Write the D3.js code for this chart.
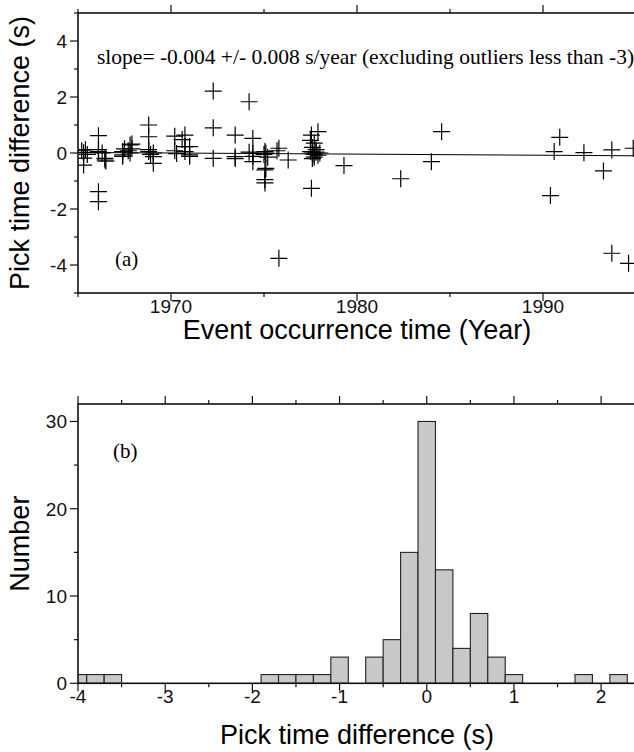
<!DOCTYPE html>
<html><head><meta charset="utf-8">
<script src="https://cdn.jsdelivr.net/npm/d3@7"></script>
<style>
html,body{margin:0;padding:0;background:#fff;}
svg{display:block;}
</style></head>
<body>
<svg id="chart" width="634" height="752"></svg>
<script>
// ---- Data: panel (a) scatter ----
const years = [
 1975.8,1993.7,1994.6,1966.1,1990.4,1966.1,1977.55,1975.05,1982.35,1975.05,
 1975.05,1993.25,1975.1,
 1965.3,1969.05,1979.3,1984.0,1974.4,
 1966.45,1966.45,1966.5,1972.27,1973.45,1973.45,1974.4,1976.3,1969.05,1965.3,1977.7,1977.6,1971.0,1967.4,1975.2,
 1965.3,1965.2,1965.5,1966.1,1966.3,1967.4,1967.4,1967.8,1967.7,1968.8,1969.05,1968.9,1970.2,1970.75,1971.0,
 1974.4,1974.2,1975.05,1975.0,1975.7,1977.5,1977.6,1977.7,1977.8,1977.9,1978.0,1990.6,1992.2,1970.3,1975.1,
 1965.4,1966.1,1967.5,1967.8,1967.9,1968.8,1970.75,1971.0,1975.8,1977.6,1977.8,1993.7,1994.85,
 1977.7,1977.5,1967.9,1970.6,
 1966.1,1968.8,1970.2,1970.75,1973.45,1974.4,1977.55,1990.9,
 1977.9,1984.55,1972.27,
 1968.8,1974.2,1972.27
];
const pickDiff = [
 -3.76,-3.58,-3.94,-1.74,-1.52,-1.38,-1.26,-1.07,-0.92,-0.95,
 -0.60,-0.64,-0.55,
 -0.43,-0.37,-0.45,-0.31,-0.31,
 -0.25,-0.19,-0.29,-0.19,-0.13,-0.20,-0.12,-0.25,-0.13,-0.18,-0.15,-0.20,-0.12,-0.12,-0.15,
 0.01,0.08,-0.05,0.05,0.00,0.05,-0.07,0.00,0.08,0.05,0.00,-0.05,0.08,0.05,-0.07,
 -0.01,0.03,0.05,-0.05,0.08,0.05,0.00,-0.05,0.03,-0.08,0.00,0.05,0.01,-0.02,0.00,
 0.12,0.12,0.15,0.29,0.15,0.12,0.23,0.23,0.17,0.20,0.12,0.11,0.17,
 0.35,0.45,0.32,0.48,
 0.62,0.58,0.60,0.64,0.64,0.52,0.64,0.56,
 0.76,0.76,0.90,
 1.00,1.83,2.21
];
// regression line
const regYears = [1965, 1995];
const regValues = [0.02, -0.10];
const slopeLabel = "slope= -0.004 +/- 0.008 s/year (excluding outliers less than -3)";

// ---- Data: panel (b) histogram ----
const binCenters = [-4.0,-3.8,-3.6,-3.4,-3.2,-3.0,-2.8,-2.6,-2.4,-2.2,-2.0,-1.8,-1.6,-1.4,-1.2,-1.0,-0.8,-0.6,-0.4,-0.2,0.0,0.2,0.4,0.6,0.8,1.0,1.2,1.4,1.6,1.8,2.0,2.2];
const binCounts  = [1,1,1,0,0,0,0,0,0,0,0,1,1,1,1,3,0,3,5,15,30,13,4,8,3,1,0,0,0,1,0,1];
const binWidth = 0.2;

// ---- Tick values ----
const yearMajor = [1970, 1980, 1990];
const yearMinor = [1965, 1975, 1985, 1995];
const diffMajor = [-4, -2, 0, 2, 4];
const diffMinor = [-5, -3, -1, 1, 3, 5];
const histXMajor = [-4, -3, -2, -1, 0, 1, 2];
const histXMinor = [-3.5, -2.5, -1.5, -0.5, 0.5, 1.5];
const countMajor = [0, 10, 20, 30];
const countMinor = [5, 15, 25];

const svg = d3.select("#chart");
const sans = "Liberation Sans, Arial, Helvetica, sans-serif";
const serif = "Liberation Serif, Times New Roman, serif";
const axisColor = "#111";
const tickFont = 19;
const labelFont = 27;

function frame(g, w, h, x, y, xMaj, xMin, yMaj, yMin) {
  const majL = 8, minL = 4;
  const tk = g.append("g").attr("stroke", axisColor).attr("stroke-width", 1.2);
  xMaj.forEach(v => {
    tk.append("line").attr("x1", x(v)).attr("x2", x(v)).attr("y1", h).attr("y2", h + majL);
    tk.append("line").attr("x1", x(v)).attr("x2", x(v)).attr("y1", 0).attr("y2", -majL);
  });
  xMin.forEach(v => {
    tk.append("line").attr("x1", x(v)).attr("x2", x(v)).attr("y1", h).attr("y2", h + minL);
    tk.append("line").attr("x1", x(v)).attr("x2", x(v)).attr("y1", 0).attr("y2", -minL);
  });
  yMaj.forEach(v => {
    tk.append("line").attr("x1", 0).attr("x2", -majL).attr("y1", y(v)).attr("y2", y(v));
    tk.append("line").attr("x1", w).attr("x2", w + majL).attr("y1", y(v)).attr("y2", y(v));
  });
  yMin.forEach(v => {
    tk.append("line").attr("x1", 0).attr("x2", -minL).attr("y1", y(v)).attr("y2", y(v));
    tk.append("line").attr("x1", w).attr("x2", w + minL).attr("y1", y(v)).attr("y2", y(v));
  });
  g.append("rect").attr("x", 0).attr("y", 0).attr("width", w).attr("height", h)
    .attr("fill", "none").attr("stroke", axisColor).attr("stroke-width", 1.6);
  g.append("g").selectAll("text").data(xMaj).join("text")
    .attr("x", d => x(d)).attr("y", h + 19.5)
    .attr("text-anchor", "middle").attr("font-family", sans).attr("font-size", tickFont)
    .attr("fill", axisColor).text(d => d);
  g.append("g").selectAll("text").data(yMaj).join("text")
    .attr("x", -11).attr("y", d => y(d)).attr("dy", "0.36em")
    .attr("text-anchor", "end").attr("font-family", sans).attr("font-size", tickFont)
    .attr("fill", axisColor).text(d => d);
}

// ===== Panel (a) =====
const A = {left: 78, top: 13, w: 558, h: 280};
const xa = d3.scaleLinear().domain([1965, 1995]).range([0, A.w]);
const ya = d3.scaleLinear().domain([-5, 5]).range([A.h, 0]);
const ga = svg.append("g").attr("transform", `translate(${A.left},${A.top})`);
const defs = svg.append("defs");
defs.append("clipPath").attr("id", "clipA")
  .append("rect").attr("x", 0).attr("y", 0).attr("width", A.w).attr("height", A.h);

const plotA = ga.append("g").attr("clip-path", "url(#clipA)");
const pts = years.map((yr, i) => ({yr, v: pickDiff[i]}));
const arm = 8.5;
plotA.append("g").attr("stroke", "#000").attr("stroke-width", 1.2).attr("fill", "none")
  .selectAll("path").data(pts).join("path")
  .attr("d", d => {
    const cx = xa(d.yr), cy = ya(d.v);
    return `M${cx - arm},${cy}H${cx + arm}M${cx},${cy - arm}V${cy + arm}`;
  });
plotA.append("path")
  .attr("d", d3.line().x(d => xa(d[0])).y(d => ya(d[1]))(regYears.map((y, i) => [y, regValues[i]])))
  .attr("stroke", "#000").attr("stroke-width", 1).attr("fill", "none");

frame(ga, A.w, A.h, xa, ya, yearMajor, yearMinor, diffMajor, diffMinor);

ga.append("text").attr("x", 19).attr("y", 51).attr("font-family", serif).attr("font-size", 21.5)
  .attr("fill", "#000").text(slopeLabel);
ga.append("text").attr("x", 37).attr("y", 253).attr("font-family", serif).attr("font-size", 21)
  .attr("fill", "#000").text("(a)");
ga.append("text").attr("x", A.h / -2).attr("y", -49).attr("transform", "rotate(-90)")
  .attr("text-anchor", "middle").attr("font-family", sans).attr("font-size", labelFont)
  .attr("fill", "#000").text("Pick time difference (s)");
ga.append("text").attr("x", A.w / 2).attr("y", A.h + 46)
  .attr("text-anchor", "middle").attr("font-family", sans).attr("font-size", labelFont)
  .attr("fill", "#000").text("Event occurrence time (Year)");

// ===== Panel (b) =====
const B = {left: 78, top: 404, w: 558, h: 279.3};
const xb = d3.scaleLinear().domain([-4, 2.4]).range([0, B.w]);
const yb = d3.scaleLinear().domain([0, 32]).range([B.h, 0]);
const gb = svg.append("g").attr("transform", `translate(${B.left},${B.top})`);
defs.append("clipPath").attr("id", "clipB")
  .append("rect").attr("x", 0).attr("y", 0).attr("width", B.w).attr("height", B.h);
const bins = binCenters.map((c, i) => ({c, n: binCounts[i]})).filter(d => d.n > 0);
gb.append("g").attr("clip-path", "url(#clipB)")
  .selectAll("rect").data(bins).join("rect")
  .attr("x", d => xb(d.c - binWidth / 2))
  .attr("width", d => xb(d.c + binWidth / 2) - xb(d.c - binWidth / 2))
  .attr("y", d => yb(d.n)).attr("height", d => yb(0) - yb(d.n))
  .attr("fill", "#c8c8c8").attr("stroke", "#222").attr("stroke-width", 1.1);

frame(gb, B.w, B.h, xb, yb, histXMajor, histXMinor, countMajor, countMinor);

gb.append("text").attr("x", 35).attr("y", 54).attr("font-family", serif).attr("font-size", 21)
  .attr("fill", "#000").text("(b)");
gb.append("text").attr("x", B.h / -2).attr("y", -49).attr("transform", "rotate(-90)")
  .attr("text-anchor", "middle").attr("font-family", sans).attr("font-size", labelFont)
  .attr("fill", "#000").text("Number");
gb.append("text").attr("x", B.w / 2).attr("y", B.h + 61)
  .attr("text-anchor", "middle").attr("font-family", sans).attr("font-size", labelFont)
  .attr("fill", "#000").text("Pick time difference (s)");
</script>
</body></html>
